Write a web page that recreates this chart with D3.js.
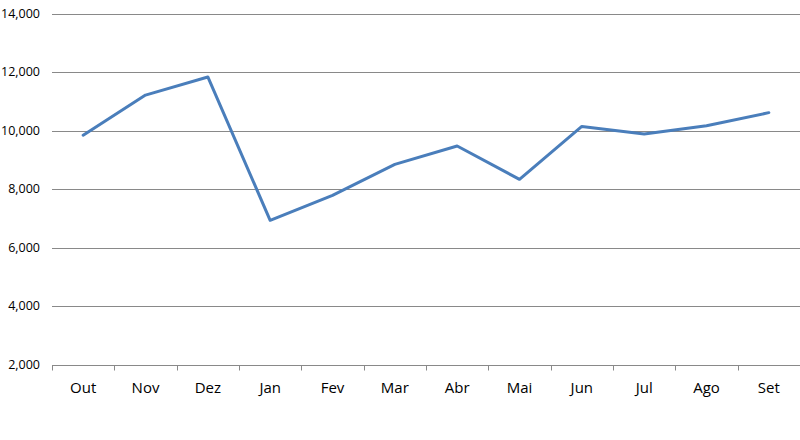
<!DOCTYPE html>
<html><head><meta charset="utf-8">
<script src="https://cdn.jsdelivr.net/npm/d3@7"></script>
<style>body{margin:0;background:#fff}svg{display:block}text{font-family:"Open Sans","Noto Sans",sans-serif;font-size:12.5px;fill:#000}.xl{font-size:15px}</style>
</head><body><svg width="800" height="440"></svg>
<script>
const months = ["Out","Nov","Dez","Jan","Fev","Mar","Abr","Mai","Jun","Jul","Ago","Set"];
const values = [9840,11210,11830,6930,7780,8840,9470,8330,10140,9880,10160,10610];
const yTicks = [2000,4000,6000,8000,10000,12000,14000];

const svg = d3.select("svg");
const m = {l:52, r:800, t:13.5, b:364.5};
const x = d3.scaleBand().domain(months).range([m.l, m.r]).padding(0);
const y = d3.scaleLinear().domain([2000,14000]).range([m.b, m.t]);

// gridlines
svg.append("g").selectAll("line").data(yTicks.slice(1)).join("line")
  .attr("x1", m.l).attr("x2", m.r)
  .attr("y1", d => Math.round(y(d))+0.5).attr("y2", d => Math.round(y(d))+0.5)
  .attr("stroke", "#898989").attr("stroke-width", 1);

// y labels
svg.append("g").selectAll("text").data(yTicks).join("text")
  .attr("x", 40).attr("y", d => y(d)).attr("dy", "0.35em")
  .attr("text-anchor", "end").text(d => d3.format(",")(d));

// x axis
const xa = svg.append("g").attr("transform", `translate(0,${Math.round(y(2000))+0.5})`);
xa.append("line").attr("x1", m.l).attr("x2", m.r).attr("stroke", "#898989");
const edges = months.map(d => x(d)).concat([m.r]);
xa.selectAll("line.t").data(edges).join("line").attr("class","t")
  .attr("x1", d => Math.round(d)+0.5).attr("x2", d => Math.round(d)+0.5)
  .attr("y1", 0).attr("y2", 5).attr("stroke", "#898989");
xa.selectAll("text").data(months).join("text").attr("class","xl")
  .attr("x", d => x(d) + x.bandwidth()/2).attr("y", 27.5)
  .attr("text-anchor", "middle").text(d => d);

// line
const line = d3.line().x((d,i) => x(months[i]) + x.bandwidth()/2).y(d => y(d));
svg.append("path").datum(values).attr("d", line)
  .attr("fill", "none").attr("stroke", "#4a7ebb").attr("stroke-width", 3)
  .attr("stroke-linejoin", "round").attr("stroke-linecap", "round");
</script></body></html>
